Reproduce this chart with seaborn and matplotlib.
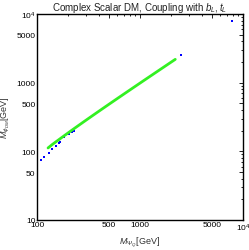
import matplotlib
matplotlib.use("Agg")
import matplotlib.pyplot as plt
import matplotlib.ticker as mticker
import seaborn as sns
import pandas as pd

# green band: viable points (M_PsiQ, M_phiDM) in GeV
green_mpsi = [128, 140, 155, 170, 190, 210, 235, 260, 290, 320, 360, 400, 450,
              500, 560, 630, 700, 800, 900, 1000, 1150, 1300, 1500, 1700, 1950, 2200]
green_mdm = [112, 125, 140, 155, 175, 195, 220, 245, 275, 305, 345, 385, 435,
             485, 545, 615, 685, 785, 885, 985, 1135, 1285, 1485, 1685, 1935, 2185]

# blue points
blue_mpsi = [109, 117, 132, 140, 153, 164, 167, 183, 205, 219, 229, 2500, 7900]
blue_mdm = [75, 83, 94, 108, 120, 131, 138, 160, 181, 191, 198, 2530, 7900]

x_ticks = [100, 500, 1000, 5000, 10000]
x_labels = ["100", "500", "1000", "5000", r"$10^4$"]
y_ticks = [10, 50, 100, 500, 1000, 5000, 10000]
y_labels = ["10", "50", "100", "500", "1000", "5000", r"$10^4$"]

sns.set_style("white")
plt.rcParams["font.family"] = ["Liberation Sans", "DejaVu Sans"]
plt.rcParams["mathtext.fontset"] = "custom"
plt.rcParams["mathtext.it"] = "Liberation Sans:italic"
plt.rcParams["mathtext.rm"] = "Liberation Sans"

green_df = pd.DataFrame({"mpsi": green_mpsi, "mdm": green_mdm})
blue_df = pd.DataFrame({"mpsi": blue_mpsi, "mdm": blue_mdm})

fig = plt.figure(figsize=(2.49, 2.51), dpi=100)
ax = fig.add_axes([37 / 249, 30 / 251, 206 / 249, 206 / 251])

sns.lineplot(data=green_df, x="mpsi", y="mdm", ax=ax, color="#33f022",
             linewidth=2.0, sort=False, estimator=None)
sns.scatterplot(data=blue_df, x="mpsi", y="mdm", ax=ax, color="#0000ff",
                s=3, linewidth=0, marker="s")

ax.set_xscale("log")
ax.set_yscale("log")
ax.set_xlim(100, 10000)
ax.set_ylim(10, 10000)

ax.xaxis.set_major_locator(mticker.FixedLocator(x_ticks))
ax.xaxis.set_major_formatter(mticker.FixedFormatter(x_labels))
ax.yaxis.set_major_locator(mticker.FixedLocator(y_ticks))
ax.yaxis.set_major_formatter(mticker.FixedFormatter(y_labels))
ax.xaxis.set_minor_locator(mticker.LogLocator(base=10, subs=range(2, 10), numticks=20))
ax.yaxis.set_minor_locator(mticker.LogLocator(base=10, subs=range(2, 10), numticks=20))
ax.xaxis.set_minor_formatter(mticker.NullFormatter())
ax.yaxis.set_minor_formatter(mticker.NullFormatter())

ax.tick_params(which="both", direction="in", top=True, right=True,
               labelsize=6, pad=1.0, width=0.6, colors="black")
ax.tick_params(which="major", length=3)
ax.tick_params(which="minor", length=1.5)
for s in ax.spines.values():
    s.set_linewidth(1.0)
    s.set_color("black")

ax.set_title(r"Complex Scalar DM, Coupling with $b_L,t_L$", fontsize=7, pad=3,
             color="#222222")
ax.set_xlabel(r"$M_{\Psi_Q}$[GeV]", fontsize=6.5, labelpad=1, color="#333333")
ax.set_ylabel(r"$M_{\phi_{DM}}$[GeV]", fontsize=6.5, labelpad=3, color="#333333")

fig.savefig("out.png", dpi=100)
